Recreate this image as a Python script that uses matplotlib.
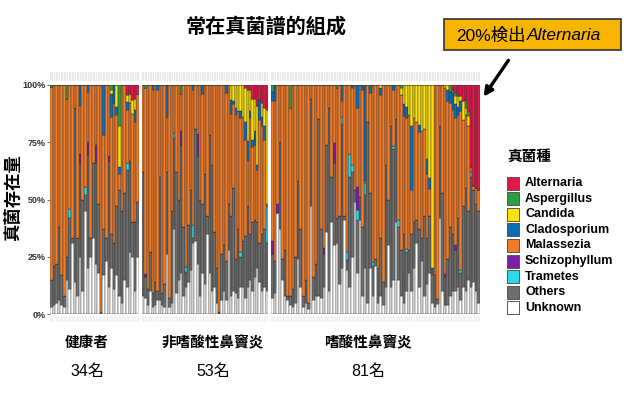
import numpy as np
import matplotlib
matplotlib.use('Agg')
import matplotlib.pyplot as plt
from matplotlib.patches import Rectangle, FancyArrowPatch

plt.rcParams['font.family'] = ['Liberation Sans', 'Noto Sans CJK TC', 'DejaVu Sans']

# stacking order, bottom -> top
TAXA = ['Unknown', 'Others', 'Trametes', 'Schizophyllum', 'Malassezia',
        'Cladosporium', 'Candida', 'Aspergillus', 'Alternaria']
COLORS = {'Alternaria': '#E2184A', 'Aspergillus': '#2E9E44', 'Candida': '#FBE10A',
          'Cladosporium': '#0D6CB6', 'Malassezia': '#F07B2B', 'Schizophyllum': '#7B1FA2',
          'Trametes': '#2FD8E6', 'Others': '#6E6E6E', 'Unknown': '#FFFFFF'}

GROUPS = ['健康者', '非嗜酸性鼻竇炎', '嗜酸性鼻竇炎']
COUNTS = ['34名', '53名', '81名']

# ---- healthy (34) : % per sample, Malassezia = remainder
unk_h = [3, 4, 5, 6, 4, 3, 15, 11, 31, 14, 8, 25, 10, 45, 20, 25, 33, 22, 18, 0,
         17, 23, 12, 20, 11, 17, 8, 5, 15, 12, 27, 25, 10, 25]
oth_h = [12, 17, 17, 32, 13, 5, 10, 31, 2, 76, 25, 41, 40, 7, 50, 8, 33, 44, 30, 1,
         20, 10, 55, 15, 20, 30, 46, 40, 38, 51, 40, 15, 30, 24]
minor_h = {
    'Trametes': {7: 4, 13: 3.5, 29: 3},
    'Schizophyllum': {11: 4, 14: 5, 17: 8, 22: 2},
    'Cladosporium': {11: 9, 14: 3, 20: 22, 23: 10, 24: 8, 25: 3.5, 26: 3, 29: 3.5, 32: 5},
    'Candida': {23: 2, 25: 9.5, 26: 18, 29: 3, 30: 4, 31: 6, 32: 5},
    'Aspergillus': {0: 1, 6: 6, 23: 2, 26: 18},
    'Alternaria': {29: 4.5, 30: 4, 31: 6.5, 32: 6, 33: 4},
}

# ---- non-eosinophilic CRS (53)
unk_n = [8, 7, 4, 10, 3, 4, 6, 6, 4, 3, 26, 3, 5, 37, 9, 15, 18, 8, 12, 14,
         19, 31, 32, 22, 8, 18, 13, 35, 18, 10, 12, 5, 0, 6, 10, 6, 28, 8, 10, 9,
         7, 12, 12, 7, 12, 15, 10, 16, 20, 14, 10, 12, 10]
oth_n = [54, 9, 7, 17, 6, 10, 4, 54, 5, 10, 36, 4, 40, 40, 53, 35, 56, 30, 6.5, 25,
         35, 2, 49, 47, 42, 30, 48, 8, 60, 55, 24, 15, 1, 20, 20, 17, 20, 35, 45, 15,
         30, 13, 20, 27, 35, 20, 30, 25, 20, 17, 25, 25, 21]
minor_n = {
    'Trametes': {13: 2, 18: 2, 21: 6, 41: 2, 52: 16},
    'Schizophyllum': {1: 1.5, 16: 6, 23: 9.5},
    'Cladosporium': {4: 2, 6: 2, 10: 14, 21: 2, 25: 4, 35: 3.5, 37: 6, 38: 1.5, 39: 3,
                     41: 3, 43: 8, 44: 8.5, 45: 3, 46: 3, 47: 6, 48: 2, 49: 9, 50: 4, 51: 6},
    'Candida': {37: 6.5, 38: 7, 39: 10, 40: 11.5, 41: 11.5, 42: 14, 43: 14.5, 44: 22.5,
                45: 9.5, 46: 18, 47: 14, 48: 26, 50: 6, 51: 8, 52: 41},
    'Aspergillus': {1: 1.5, 16: 4},
    'Alternaria': {43: 1.5, 44: 2, 45: 2, 46: 6, 47: 6, 48: 9, 49: 6.5, 50: 8, 51: 10, 52: 11},
}

# ---- eosinophilic CRS (81)
unk_e = [7, 9, 44, 37, 15, 8, 6, 4, 3, 5, 24, 12, 3, 5, 2, 47, 6, 8, 8, 7,
         12, 36, 10, 40, 30, 31, 13, 20, 41, 19, 12, 25, 49, 18, 41, 8, 20, 5, 20, 8,
         21, 5, 8, 4, 12, 30, 12, 15, 40, 15, 8, 5, 10, 18, 10, 20, 31, 12, 23, 8,
         13, 18, 5, 3, 4.5, 42, 10, 4, 4, 8, 10, 10, 12, 6, 12, 10, 15, 12, 14, 10, 5]
oth_e = [19, 14, 0, 38, 9, 20, 2, 4, 8, 20, 34, 25, 5, 10, 3, 47, 10, 14, 77, 30,
         14, 38, 80, 20, 36, 11, 30, 63, 2, 4.5, 48, 37, 5, 23, 10, 30, 32, 79, 33, 13,
         3, 15, 25, 10, 53, 20, 70, 57, 45, 23, 20, 30, 17, 10, 25, 20, 10, 25, 10, 35,
         20, 25, 12.5, 14, 2, 40, 43, 12, 20, 30, 25, 18, 30, 12, 35, 45, 30, 48, 40, 38, 40]
minor_e = {
    'Trametes': {27: 3, 29: 3.5, 30: 10, 31: 3, 33: 4.5, 36: 5, 39: 1.5, 47: 1.5, 49: 3,
                 52: 1.5, 73: 1, 77: 2},
    'Schizophyllum': {0: 6, 2: 4, 20: 3, 24: 8.5, 33: 10, 67: 1.5, 71: 2},
    'Cladosporium': {0: 4, 1: 7, 27: 7, 31: 1.5, 33: 10, 35: 2, 36: 42, 38: 3.5, 42: 3,
                     47: 2, 51: 5, 52: 5, 54: 28, 57: 3, 60: 6.5, 61: 5, 62: 2, 68: 5,
                     69: 5, 70: 7, 71: 6, 72: 3.5, 73: 4.5},
    'Candida': {42: 1.5, 50: 3, 51: 8.5, 52: 9.5, 53: 13, 54: 18, 55: 14.5, 56: 16,
                57: 17.5, 58: 20, 59: 19, 60: 32.5, 61: 40.5, 62: 80, 67: 1.5, 68: 2,
                71: 3.5, 72: 4.5, 73: 2, 74: 8.5, 75: 3, 76: 4.5},
    'Aspergillus': {0: 3, 7: 10, 25: 1.5, 50: 1.5, 69: 3, 70: 2, 71: 1.5, 75: 3.5, 76: 2},
    'Alternaria': {70: 2, 71: 3.5, 72: 5, 73: 5, 74: 7, 75: 6.5, 76: 11.5, 77: 36,
                   78: 44, 79: 45, 80: 46},
}

W, H = 624, 400
def fx(px):
    return px / W
def fy(py):
    return 1 - py / H


def build(unk, oth, minor):
    n = len(unk)
    layers = {'Unknown': np.array(unk, float), 'Others': np.array(oth, float)}
    for t in TAXA:
        if t in layers or t == 'Malassezia':
            continue
        arr = np.zeros(n)
        for k, v in minor.get(t, {}).items():
            arr[k] = v
        layers[t] = arr
    layers['Malassezia'] = np.clip(100 - sum(layers.values()), 0, None)
    return layers


fig = plt.figure(figsize=(6.24, 4), dpi=100)
fig.patch.set_facecolor('white')

panels = [(build(unk_h, oth_h, minor_h), 50, 139),
          (build(unk_n, oth_n, minor_n), 142, 268),
          (build(unk_e, oth_e, minor_e), 271, 480)]
y_top, y_bot = 85, 314

for k, (layers, x0, x1) in enumerate(panels):
    n = len(layers['Unknown'])
    ax = fig.add_axes([fx(x0), fy(y_bot), fx(x1 - x0), (y_bot - y_top) / H])
    x = np.arange(n)
    bottom = np.zeros(n)
    for t in TAXA:
        ax.bar(x, layers[t], bottom=bottom, width=1.0, color=COLORS[t],
               edgecolor='#2e2e2e', linewidth=0.3)
        bottom += layers[t]
    ax.set_xlim(-0.5, n - 0.5)
    ax.set_ylim(0, 100)
    for s in ax.spines.values():
        s.set_visible(False)
    ax.set_xticks([])
    if k == 0:
        ax.set_yticks([0, 25, 50, 75, 100])
        ax.set_yticklabels(['0%', '25%', '50%', '75%', '100%'], fontsize=6.5,
                           fontweight='bold', color='#333333')
        ax.tick_params(axis='y', length=2, width=0.6, pad=1, color='#555555')
    else:
        ax.set_yticks([])

    # empty facet strips above and below
    for (ya, yb, fc) in [(72, 81, '#e9e9e9'), (316, 322, '#f1f1f1')]:
        sax = fig.add_axes([fx(x0), fy(yb), fx(x1 - x0), (yb - ya) / H])
        sax.set_facecolor(fc)
        sax.set_xlim(-0.5, n - 0.5)
        for i in range(n - 1):
            sax.axvline(i + 0.5, color='white', lw=0.5)
        sax.set_xticks([])
        sax.set_yticks([])
        for s in sax.spines.values():
            s.set_visible(False)

# title and axis label
fig.text(fx(266), fy(27), '常在真菌譜的組成', ha='center', va='center',
         fontsize=14.5, fontweight='bold')
fig.text(fx(13), fy(198), '真菌存在量', rotation=90, ha='center', va='center',
         fontsize=12.5, fontweight='bold')

# group labels
for name, cnt, cx in zip(GROUPS, COUNTS, [87, 213, 368]):
    fig.text(fx(cx), fy(343), name, ha='center', va='center', fontsize=10.5,
             fontweight='bold')
    fig.text(fx(cx), fy(371), cnt, ha='center', va='center', fontsize=11.5)

# legend
fig.text(fx(507), fy(157), '真菌種', ha='left', va='center', fontsize=10.5,
         fontweight='bold')
for j, t in enumerate(TAXA[::-1]):
    cy = 183 + 15.6 * j
    fig.add_artist(Rectangle((fx(507), fy(cy + 6.5)), 12 / W, 13 / H,
                             transform=fig.transFigure, facecolor=COLORS[t],
                             edgecolor='#555555', linewidth=0.7))
    fig.text(fx(525), fy(cy), t, ha='left', va='center', fontsize=9,
             fontweight='bold')

# annotation box + arrow
fig.add_artist(Rectangle((fx(444), fy(50)), 177 / W, 31 / H, transform=fig.transFigure,
                         facecolor='#F7B500', edgecolor='#333333', linewidth=1.2))
fig.text(fx(526), fy(35.5), '20%検出', ha='right', va='center', fontsize=12.5)
fig.text(fx(527), fy(35.5), 'Alternaria', ha='left', va='center', fontsize=12.5,
         style='italic')
fig.add_artist(FancyArrowPatch((fx(510), fy(58)), (fx(482), fy(99)),
                               transform=fig.transFigure, arrowstyle='-|>',
                               mutation_scale=13, lw=2.4, color='black'))

fig.savefig('out.png', dpi=100)
